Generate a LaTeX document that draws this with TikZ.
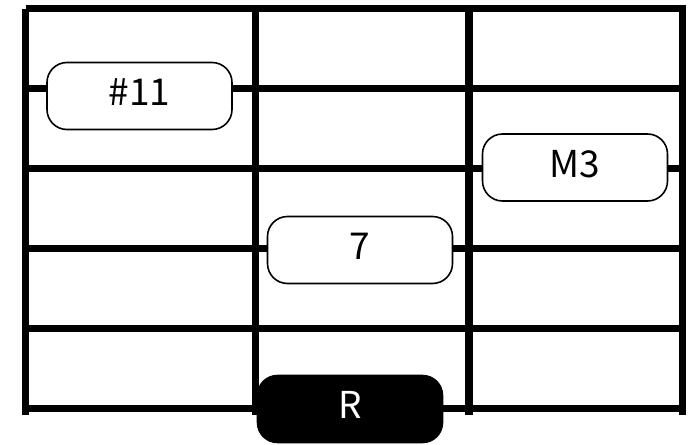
\documentclass[tikz,border=0pt]{standalone}
\usepackage{fontspec}
\setmainfont{Noto Sans CJK JP}
\begin{document}
\begin{tikzpicture}[x=1pt,y=-1pt,
  gridline/.style={line width=7.5pt},
  tone/.style={draw=black, line width=1.6pt, rounded corners=20pt, fill=white,
    minimum width=185pt, minimum height=67pt, inner sep=0pt,
    font=\fontsize{37}{40}\selectfont, text height=27pt, text depth=8pt},
  rootnote/.style={tone, fill=black, text=white}]
\useasboundingbox (0,0) rectangle (695,444);
% strings (horizontal)
\foreach \y in {8.5,88.5,168.5,248.5,328.5,408.5}
  \draw[gridline] (26,\y) -- (686,\y);
% frets (vertical)
\foreach \x in {25.5,255.5,469,682.5}
  \draw[gridline] (\x,9) -- (\x,415);
% notes
\node[tone] (n11) at (139.5,96) {\#11};
\node[tone] (nM3) at (575,167.5) {M3};
\node[tone] (n7) at (360,250) {7};
\node[rootnote] (nR) at (350,409) {R};
\end{tikzpicture}
\end{document}
